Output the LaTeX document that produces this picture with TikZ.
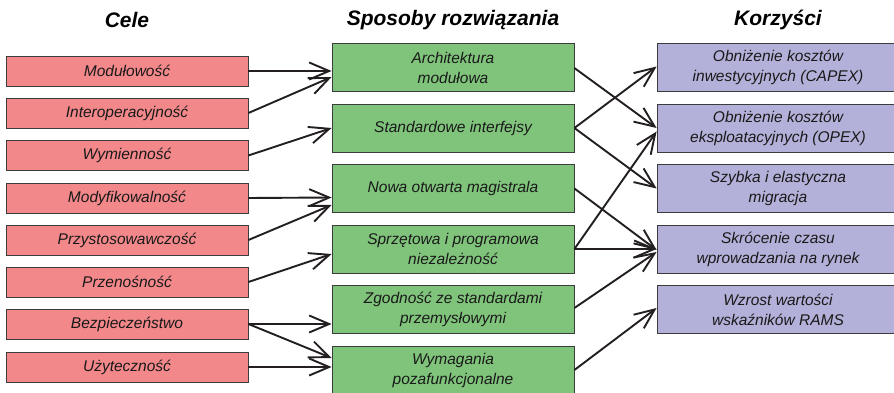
\documentclass[tikz,border=0pt]{standalone}
\usepackage{fontspec}
\setmainfont{Liberation Sans}
\usetikzlibrary{arrows.meta}
\definecolor{cred}{HTML}{F2888A}
\definecolor{cgreen}{HTML}{80C47C}
\definecolor{cpurple}{HTML}{B3B1D9}
\definecolor{cborder}{HTML}{3C3C3C}
\definecolor{cline}{HTML}{231F20}
\tikzset{
  box/.style={draw=cborder, line width=0.8pt, minimum width=242pt, inner sep=0pt, align=center,
    font=\fontsize{15.5}{20}\selectfont\itshape, text=black!90},
  redbox/.style={box, fill=cred, minimum height=30pt},
  greenbox/.style={box, fill=cgreen, minimum height=48pt},
  purplebox/.style={box, fill=cpurple, minimum height=48pt},
  head/.style={font=\fontsize{21}{25}\selectfont\bfseries\itshape},
  arr/.style={draw=cline, line width=1.9pt, -{Straight Barb[length=20pt,width=17pt]}},
}
\begin{document}
\begin{tikzpicture}[x=1pt,y=-1pt]
\useasboundingbox (0,0) rectangle (894,393);
\node[head] (h1) at (127,20) {Cele};
\node[head] (h2) at (453,20) {Sposoby rozwiązania};
\node[head] (h3) at (778,20) {Korzyści};

\node[redbox] (m1) at (127,71) {Modułowość};
\node[redbox] (m2) at (127,113) {Interoperacyjność};
\node[redbox] (m3) at (127,155.5) {Wymienność};
\node[redbox] (m4) at (127,198) {Modyfikowalność};
\node[redbox] (m5) at (127,240) {Przystosowawczość};
\node[redbox] (m6) at (127,282) {Przenośność};
\node[redbox] (m7) at (127,324) {Bezpieczeństwo};
\node[redbox] (m8) at (127,367) {Użyteczność};

\node[greenbox] (arch) at (453,67.5) {Architektura\\modułowa};
\node[greenbox] (std) at (453,128) {Standardowe interfejsy};
\node[greenbox] (nowa) at (453,188.5) {Nowa otwarta magistrala};
\node[greenbox] (sprz) at (453,249) {Sprzętowa i programowa\\niezależność};
\node[greenbox] (zgod) at (453,309.5) {Zgodność ze standardami\\przemysłowymi};
\node[greenbox] (wym) at (453,370) {Wymagania\\pozafunkcjonalne};

\node[purplebox] (capex) at (778,67.5) {Obniżenie kosztów\\inwestycyjnych (CAPEX)};
\node[purplebox] (opex) at (778,128) {Obniżenie kosztów\\eksploatacyjnych (OPEX)};
\node[purplebox] (szyb) at (778,188.5) {Szybka i elastyczna\\migracja};
\node[purplebox] (skr) at (778,249) {Skrócenie czasu\\wprowadzania na rynek};
\node[purplebox] (wzr) at (778,309.5) {Wzrost wartości\\wskaźników RAMS};

\draw[arr] (m1.east) -- ([yshift=-3.5pt]arch.west);
\draw[arr] (m2.east) -- ([yshift=-9.5pt]arch.west);
\draw[arr] (m3.east) -- (std.west);
\draw[arr] (m4.east) -- ([yshift=-9pt]nowa.west);
\draw[arr] (m5.east) -- ([yshift=-16.5pt]nowa.west);
\draw[arr] (m6.east) -- ([yshift=-5pt]sprz.west);
\draw[arr] (m7.east) -- ([yshift=-14.5pt]zgod.west);
\draw[arr] (m7.east) -- ([yshift=12pt]wym.west);
\draw[arr] (m8.east) -- ([yshift=3pt]wym.west);

\draw[arr] ([yshift=-0.5pt]arch.east) -- (opex.west);
\draw[arr] (std.east) -- ([yshift=1pt]capex.west);
\draw[arr] (std.east) -- (szyb.west);
\draw[arr] (nowa.east) -- ([yshift=-1pt]skr.west);
\draw[arr] (sprz.east) -- ([yshift=-3.5pt]opex.west);
\draw[arr] (sprz.east) -- (skr.west);
\draw[arr] ([yshift=1.5pt]zgod.east) -- ([yshift=-3pt]skr.west);
\draw[arr] (wym.east) -- ([yshift=1.5pt]wzr.west);
\end{tikzpicture}
\end{document}
